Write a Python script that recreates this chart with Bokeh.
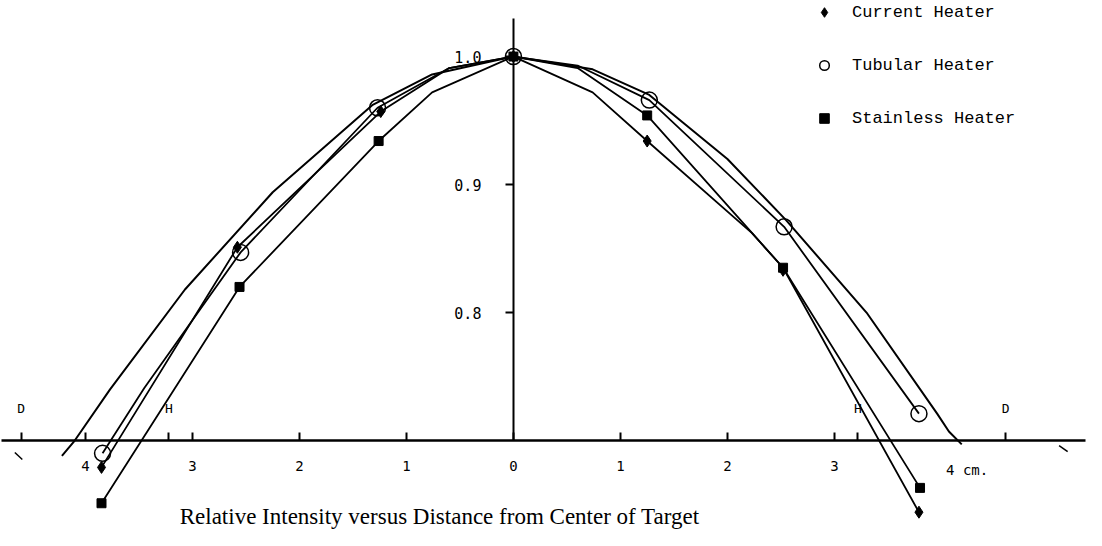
from bokeh.plotting import figure
from bokeh.models import Range1d, LinearAxis, FixedTicker, Legend, LegendItem, Label
from bokeh.core.properties import value
from bokeh.embed import file_html
from bokeh.resources import INLINE

# ---------------- data ----------------
# distance from target centre (cm, left side negative) and relative intensity
tub_x = [-3.84, -2.55, -1.27, 0.0, 1.27, 2.53, 3.79]
tub_y = [0.690, 0.847, 0.960, 1.000, 0.966, 0.867, 0.721]

cur_x = [-3.85, -2.58, -1.24, 0.0, 1.25, 2.52, 3.79]
cur_y = [0.679, 0.851, 0.957, 1.000, 0.934, 0.833, 0.644]

sta_x = [-3.85, -2.56, -1.26, 0.0, 1.25, 2.52, 3.80]
sta_y = [0.651, 0.820, 0.934, 1.000, 0.954, 0.835, 0.663]

# hand-drawn connecting curves
tub_line_x = [-3.84, -3.45, -2.55, -1.27, -0.6, 0.0, 0.6, 1.27, 2.53, 3.79]
tub_line_y = [0.690, 0.741, 0.847, 0.960, 0.991, 1.000, 0.993, 0.966, 0.867, 0.721]

cur_line_x = [-3.85, -2.58, -1.24, -0.6, 0.0, 0.74, 1.25, 2.23, 2.52, 3.79]
cur_line_y = [0.679, 0.851, 0.957, 0.991, 1.000, 0.972, 0.934, 0.862, 0.835, 0.644]

sta_line_x = [-3.85, -2.56, -1.26, -0.76, 0.0, 0.6, 1.25, 2.52, 3.80]
sta_line_y = [0.651, 0.820, 0.934, 0.972, 1.000, 0.991, 0.954, 0.835, 0.663]

outer_x = [-4.22, -4.10, -3.77, -3.07, -2.25, -1.32, -0.76, 0.0,
           0.74, 1.27, 2.0, 2.55, 3.3, 3.96, 4.07, 4.19]
outer_y = [0.688, 0.700, 0.740, 0.818, 0.894, 0.962, 0.986, 1.000,
           0.990, 0.970, 0.920, 0.872, 0.800, 0.721, 0.707, 0.697]

# axis ticks
x_ticks = [-4.6, -4, -3.22, -3, -2, -1, 0, 1, 2, 3, 3.22, 4.6]
x_tick_labels = ["", "4", "", "3", "2", "1", "0", "1", "2", "3", "", ""]
y_ticks = [0.8, 0.9, 1.0]
y_tick_labels = ["0.8", "0.9", "1.0"]

# D / H reference marks on the distance axis
mark_names = ["D", "H", "H", "D"]
mark_x = [-4.6, -3.22, 3.22, 4.6]

series_names = ["Current Heater", "Tubular Heater", "Stainless Heater"]
title_text = "Relative Intensity versus Distance from Center of Target"
unit_label = "4 cm."

# ---------------- figure ----------------
p = figure(width=1086, height=530,
           x_range=Range1d(-4.794, 5.356), y_range=Range1d(0.6297, 1.0438),
           output_backend="svg", toolbar_location=None,
           x_axis_type=None, y_axis_type=None, min_border=0)
p.outline_line_color = None
p.background_fill_color = "white"

MONO = "DejaVu Sans Mono"

xaxis = LinearAxis(fixed_location=0.7, ticker=FixedTicker(ticks=x_ticks),
                   major_label_overrides=dict(zip(x_ticks, x_tick_labels)),
                   bounds=(-4.78, 5.35))
xaxis.axis_line_width = 2.5
xaxis.axis_line_color = "black"
xaxis.major_tick_in = 8
xaxis.major_tick_out = 0
xaxis.major_tick_line_width = 2
xaxis.major_tick_line_color = "black"
xaxis.minor_tick_line_color = None
xaxis.major_label_standoff = 20
xaxis.major_label_text_font = MONO
xaxis.major_label_text_font_size = "14px"
xaxis.major_label_text_color = "black"
p.add_layout(xaxis, "below")

yaxis = LinearAxis(fixed_location=0, ticker=FixedTicker(ticks=y_ticks),
                   major_label_overrides=dict(zip(y_ticks, y_tick_labels)),
                   bounds=(0.7, 1.03))
yaxis.axis_line_width = 2
yaxis.axis_line_color = "black"
yaxis.major_tick_in = 0
yaxis.major_tick_out = 8
yaxis.major_tick_line_width = 2
yaxis.major_tick_line_color = "black"
yaxis.minor_tick_line_color = None
yaxis.major_label_standoff = 24
yaxis.major_label_text_font = MONO
yaxis.major_label_text_font_size = "15px"
yaxis.major_label_text_color = "black"
p.add_layout(yaxis, "left")

# curves
p.line(outer_x, outer_y, line_color="black", line_width=2)
p.line(tub_line_x, tub_line_y, line_color="black", line_width=1.8)
p.line(cur_line_x, cur_line_y, line_color="black", line_width=1.8)
p.line(sta_line_x, sta_line_y, line_color="black", line_width=1.8)

# markers
r_cur = p.scatter(cur_x, cur_y, marker="diamond", size=12, color="black")
r_sta = p.scatter(sta_x, sta_y, marker="square", size=9, color="black")
r_tub = p.scatter(tub_x, tub_y, marker="circle", size=16, fill_color=None,
                  line_color="black", line_width=1.5)

# D / H marks
p.text(x=mark_x, y=[0.725] * len(mark_x), text=mark_names,
       text_font=value(MONO), text_font_size=value("13px"),
       text_align="center", text_baseline="middle", text_color="black")

# small end marks of the distance axis
p.segment(x0=[-4.66, 5.10], y0=[0.6906, 0.6961], x1=[-4.59, 5.18], y1=[0.6852, 0.6914],
          line_color="black", line_width=1.5)

# unit label
p.add_layout(Label(x=4.24, y=0.677, text=unit_label, text_font=MONO,
                   text_font_size="14px", text_align="center",
                   text_baseline="middle", text_color="black"))

# caption
p.add_layout(Label(x=-0.69, y=0.641, text=title_text, text_font="Liberation Serif",
                   text_font_size="23px", text_align="center",
                   text_baseline="middle", text_color="black"))

legend = Legend(items=[LegendItem(label=series_names[0], renderers=[r_cur]),
                       LegendItem(label=series_names[1], renderers=[r_tub]),
                       LegendItem(label=series_names[2], renderers=[r_sta])],
                location=(812, 400))
legend.border_line_color = None
legend.background_fill_alpha = 0
legend.padding = 0
legend.margin = 0
legend.spacing = 29
legend.glyph_height = 24
legend.glyph_width = 24
legend.label_height = 24
legend.label_standoff = 16
legend.label_text_font = "Liberation Mono"
legend.label_text_font_size = "17px"
legend.label_text_color = "black"
p.add_layout(legend)

open("out.html", "w").write(file_html(p, INLINE))
